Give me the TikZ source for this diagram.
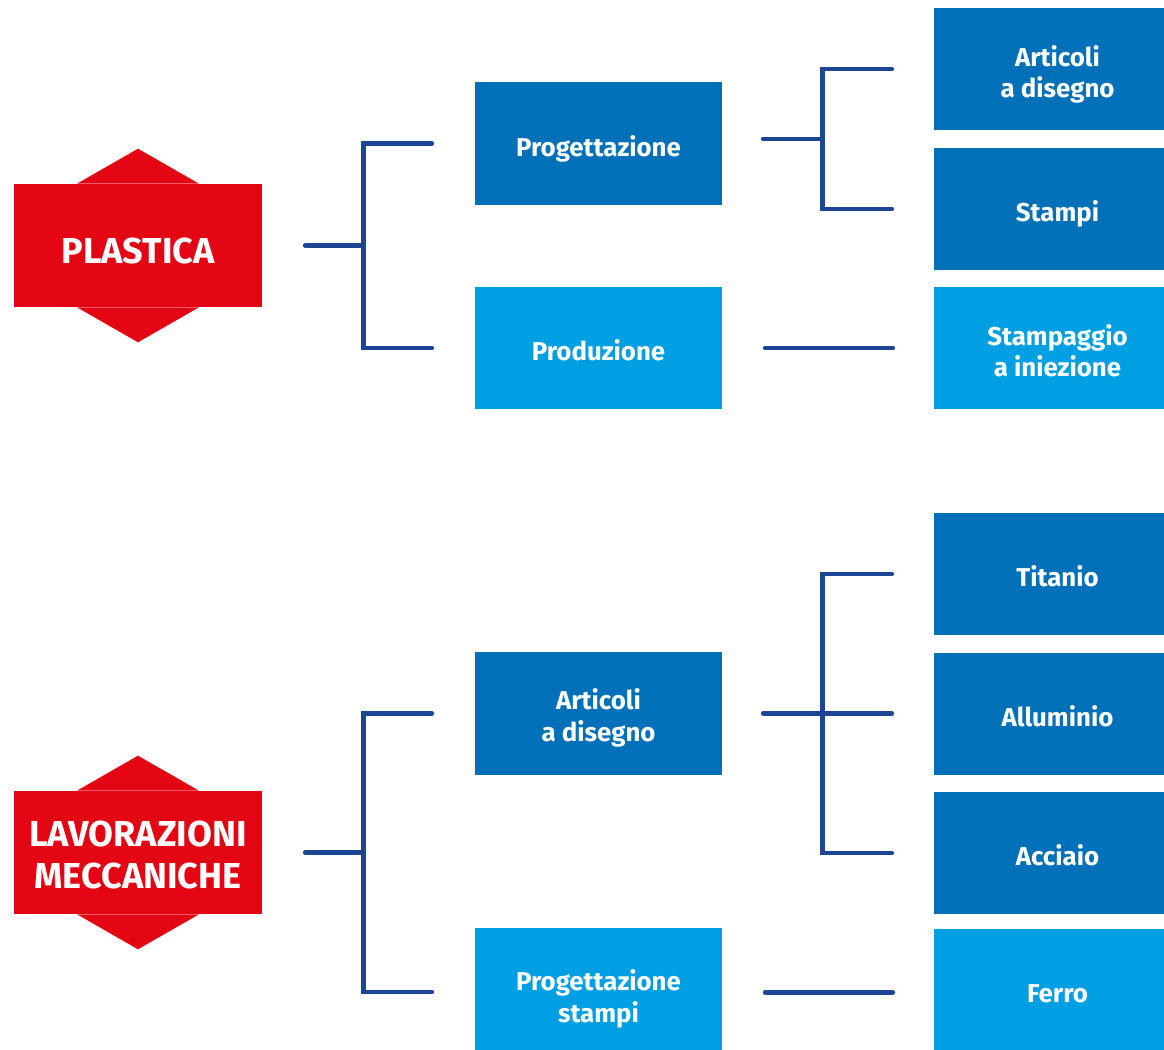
\documentclass[tikz,border=0pt]{standalone}
\usepackage{fontspec}
\setmainfont{Fira Sans}
\usetikzlibrary{calc}
\definecolor{HexClr}{rgb}{0.89,0.02,0.08}
\definecolor{DarkClr}{rgb}{0,0.44,0.72}
\definecolor{LightClr}{rgb}{0,0.62,0.89}
\definecolor{LineClr}{rgb}{0.11,0.27,0.58}

\begin{document}
\begin{tikzpicture}[x=0.02cm,y=-0.02cm,
  hexbox/.style={fill=HexClr,text=white,font=\bfseries\fontsize{20.5}{23.9}\selectfont,
    minimum width=4.96cm,minimum height=2.46cm,inner sep=0pt,align=center},
  darkbox/.style={fill=DarkClr,text=white,font=\bfseries\fontsize{14.7}{18.2}\selectfont,
    minimum width=4.94cm,minimum height=2.46cm,inner sep=0pt,align=center},
  lightbox/.style={darkbox,fill=LightClr},
  oneline/.style={text height=14.6pt,text depth=0pt},
  twoline/.style={text height=32pt,text depth=0pt},
  link/.style={draw=LineClr,line width=2.8pt,line cap=round}]
\useasboundingbox (0,0) rectangle (1164,1050);

% red hexagons
\node[hexbox,text height=20.6pt,text depth=0pt] (pla) at (138,245.5) {PLASTICA};
\node[hexbox,text height=41pt,text depth=0pt] (lav) at (138,852.5) {LAVORAZIONI\\MECCANICHE};
\foreach \h in {pla,lav}{
  \fill[HexClr] ([xshift=-1.22cm]\h.north) -- ([yshift=0.7cm]\h.north) -- ([xshift=1.22cm]\h.north) -- cycle;
  \fill[HexClr] ([xshift=-1.22cm]\h.south) -- ([yshift=-0.7cm]\h.south) -- ([xshift=1.22cm]\h.south) -- cycle;
}

% middle column
\node[darkbox,oneline] (prog) at (598.5,143.5) {Progettazione};
\node[lightbox,oneline] (prod) at (598.5,348) {Produzione};
\node[darkbox,twoline] (art) at (598.5,713.5) {Articoli\\a disegno};
\node[lightbox,twoline,text height=37pt] (stam) at (598.5,989.5) {Progettazione\\stampi};

% right column (cut by the page edge)
\node[darkbox,twoline,text height=33pt] (artdis) at (1057.5,69) {Articoli\\a disegno};
\node[darkbox,oneline] (stp) at (1057.5,209) {Stampi};
\node[lightbox,twoline,text height=33pt] (inie) at (1057.5,348) {Stampaggio\\a iniezione};
\node[darkbox,oneline] (tit) at (1057.5,574) {Titanio};
\node[darkbox,oneline] (all) at (1057.5,714) {Alluminio};
\node[darkbox,oneline] (acc) at (1057.5,853) {Acciaio};
\node[lightbox,oneline] (fer) at (1057.5,990) {Ferro};

% brackets
\draw[link] ([xshift=0.86cm]pla.east) -- ($(pla.east)+(101,0)$);
\draw[link] ([xshift=-0.86cm]prog.west) -| ($(pla.east)+(101,0)$) |- ([xshift=-0.86cm]prod.west);
\draw[link] ([xshift=0.86cm]lav.east) -- ($(lav.east)+(101,0)$);
\draw[link] ([xshift=-0.86cm]art.west) -| ($(lav.east)+(101,0)$) |- ($(stam.west)+(-43,2.5)$);

\draw[link] ($(prog.east)+(41,-4.5)$) -- ($(prog.east)+(100,-4.5)$);
\draw[link] ([xshift=-0.84cm]artdis.west) -| ($(prog.east)+(100,0)$) |- ([xshift=-0.84cm]stp.west);
\draw[link] ([xshift=0.86cm]prod.east) -- ([xshift=-0.82cm]inie.west);

\draw[link] ([xshift=0.82cm]art.east) -- ([xshift=-0.84cm]all.west |- art.east);
\draw[link] ([xshift=-0.84cm]tit.west) -| ($(art.east)+(100,0)$) |- ([xshift=-0.84cm]acc.west);
\draw[link] ($(stam.east)+(43,3)$) -- ($(fer.west)+(-41,2.5)$);
\end{tikzpicture}
\end{document}
